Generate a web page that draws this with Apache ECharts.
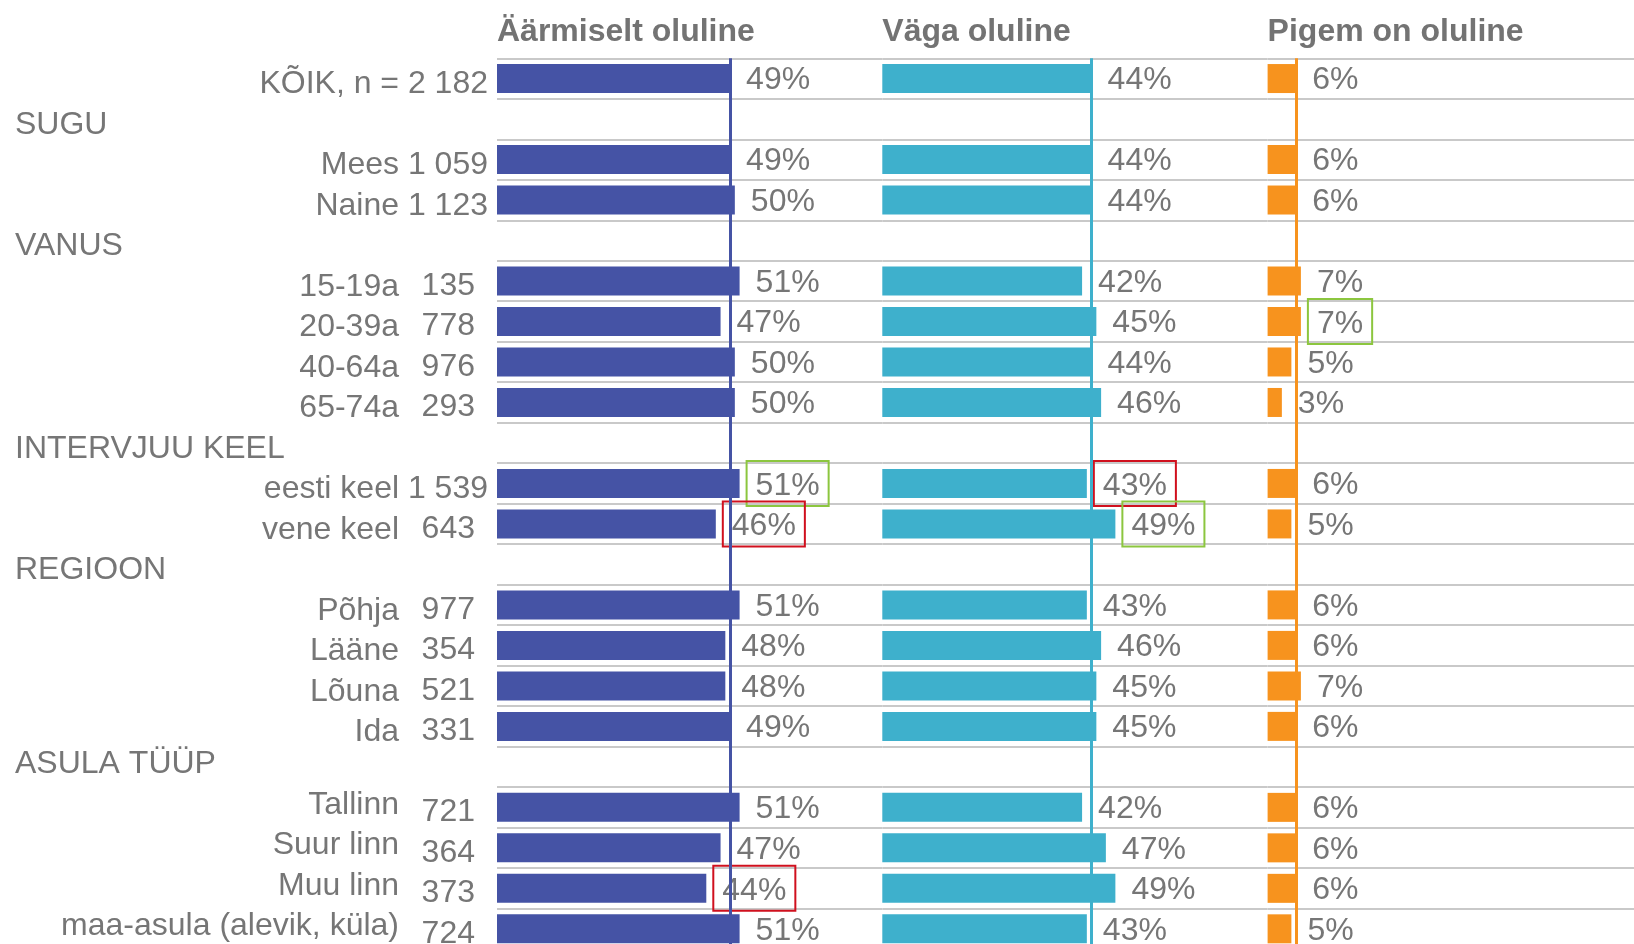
<!DOCTYPE html>
<html>
<head>
<meta charset="utf-8">
<title>Olulisus</title>
<script src="https://cdn.jsdelivr.net/npm/echarts@6/dist/echarts.min.js"></script>
<style>
  html, body { margin: 0; padding: 0; background: #fff; }
  #chart { width: 1634px; height: 944px; }
</style>
</head>
<body>
<div id="chart"></div>
<script>
// read (rühmade pealkirjad on ilma tulbata)
const categories = [
  'KÕIK, n = 2 182', 'SUGU', 'Mees 1 059', 'Naine 1 123',
  'VANUS', '15-19a', '20-39a', '40-64a', '65-74a',
  'INTERVJUU KEEL', 'eesti keel 1 539', 'vene keel',
  'REGIOON', 'Põhja', 'Lääne', 'Lõuna', 'Ida',
  'ASULA TÜÜP', 'Tallinn', 'Suur linn', 'Muu linn', 'maa-asula (alevik, küla)'
]
// eraldi veerus olevad vastajate arvud
const counts = [
  '', '', '', '',
  '', '135', '778', '976', '293',
  '', '', '643',
  '', '977', '354', '521', '331',
  '', '721', '364', '373', '724'
]
const groupHeaders = ['SUGU', 'VANUS', 'INTERVJUU KEEL', 'REGIOON', 'ASULA TÜÜP']
const raisedRows = ['Tallinn', 'Suur linn', 'Muu linn', 'maa-asula (alevik, küla)']

const seriesNames = ['Äärmiselt oluline', 'Väga oluline', 'Pigem on oluline']
const extremely = [49, null, 49, 50, null, 51, 47, 50, 50, null, 51, 46, null, 51, 48, 48, 49, null, 51, 47, 44, 51]
const very = [44, null, 44, 44, null, 42, 45, 44, 46, null, 43, 49, null, 43, 46, 45, 45, null, 42, 47, 49, 43]
const rather = [6, null, 6, 6, null, 7, 7, 5, 3, null, 6, 5, null, 6, 6, 7, 6, null, 6, 6, 6, 5]

// raamiga esile tõstetud väärtused
const greenMarks = [['eesti keel 1 539'], ['vene keel'], ['20-39a']]
const redMarks = [['vene keel', 'Muu linn'], ['eesti keel 1 539'], []]

const colors = ['#4553a5', '#3eb0cc', '#f7931e']
const textColor = '#767676'
const fontFamily = "'Liberation Sans', Arial, sans-serif"
const fontSize = 32

// paneelide paigutus
const panelLeft = 497
const panelWidth = 385.3
const panelMax = 81
const rowHeight = 40.49

const seriesValues = [extremely, very, rather]

const boxLabel = color => ({
  borderColor: color,
  borderWidth: 2,
  padding: [5, 9, 4, 9],
  distance: 7
})

const buildData = (values, i) => values.map((v, idx) => {
  if (v == null) return '-'
  const name = categories[idx]
  if (greenMarks[i].includes(name)) return { value: v, label: boxLabel('#8cc63f') }
  if (redMarks[i].includes(name)) return { value: v, label: boxLabel('#d0101e') }
  return v
})

const yLabelFormatter = (value, idx) => {
  if (groupHeaders.includes(value)) {
    return '{' + (value === 'ASULA TÜÜP' ? 'hu' : 'h') + '|' + value + '}'
  }
  const n = counts[idx]
  if (!n) return '{s|' + value + '}'
  return '{' + (raisedRows.includes(value) ? 'nr' : 'n') + '|' + value + '}{c|' + n + '}{e|\u00a0}'
}

const tok = (width, align, padding) => ({
  width: width, align: align, padding: padding,
  fontSize: fontSize, color: textColor, fontFamily: fontFamily
})

const grids = []
const xAxes = []
const yAxes = []
const series = []
const titles = []

seriesNames.forEach((name, i) => {
  const left = panelLeft + i * panelWidth
  grids.push({
    left: left,
    top: 58.3,
    width: panelWidth,
    height: rowHeight * categories.length,
    outerBoundsMode: 'none'
  })
  titles.push({
    text: name,
    left: left,
    top: 16.5,
    padding: 0,
    textStyle: { color: '#737373', fontSize: fontSize, fontWeight: 'bold', fontFamily: fontFamily }
  })
  xAxes.push({
    type: 'value',
    gridIndex: i,
    min: 0,
    max: panelMax,
    show: false
  })
  yAxes.push({
    type: 'category',
    gridIndex: i,
    data: categories,
    inverse: true,
    axisLine: { show: false },
    axisTick: { show: false },
    splitLine: {
      show: true,
      interval: 0,
      lineStyle: { color: '#c9c9c9', width: 2 }
    },
    axisLabel: i === 0 ? {
      show: true,
      interval: 0,
      margin: 9,
      color: textColor,
      fontSize: fontSize,
      fontFamily: fontFamily,
      formatter: yLabelFormatter,
      rich: {
        h: tok(473, 'left', [12, 0, 0, 0]),
        hu: tok(473, 'left', [0, 0, 6, 0]),
        s: tok(473, 'right', [12, 0, 0, 0]),
        n: tok(384, 'right', [12, 0, 0, 0]),
        nr: tok(384, 'right', [0, 0, 5, 0]),
        c: tok(76, 'right', [10, 0, 0, 0]),
        e: tok(13, 'right', [0, 0, 0, 0])
      }
    } : { show: false }
  })
  series.push({
    name: name,
    type: 'bar',
    xAxisIndex: i,
    yAxisIndex: i,
    barWidth: 29,
    data: buildData(seriesValues[i], i),
    itemStyle: { color: colors[i] },
    label: {
      show: true,
      position: 'right',
      distance: 16,
      formatter: '{t|{c}%}',
      rich: {
        t: { padding: [4, 0, 0, 0], fontSize: fontSize, color: textColor, fontFamily: fontFamily }
      }
    },
    // keskmine (KÕIK) joonena
    markLine: {
      silent: true,
      symbol: ['none', 'none'],
      label: { show: false },
      lineStyle: { color: colors[i], width: 3, type: 'solid' },
      emphasis: { disabled: true },
      data: [{ xAxis: seriesValues[i][0] }]
    }
  })
})

const chart = echarts.init(document.getElementById('chart'))
chart.setOption({
  animation: false,
  backgroundColor: '#fff',
  title: titles,
  grid: grids,
  xAxis: xAxes,
  yAxis: yAxes,
  series: series
})

window.addEventListener('resize', () => chart.resize())
</script>
</body>
</html>
